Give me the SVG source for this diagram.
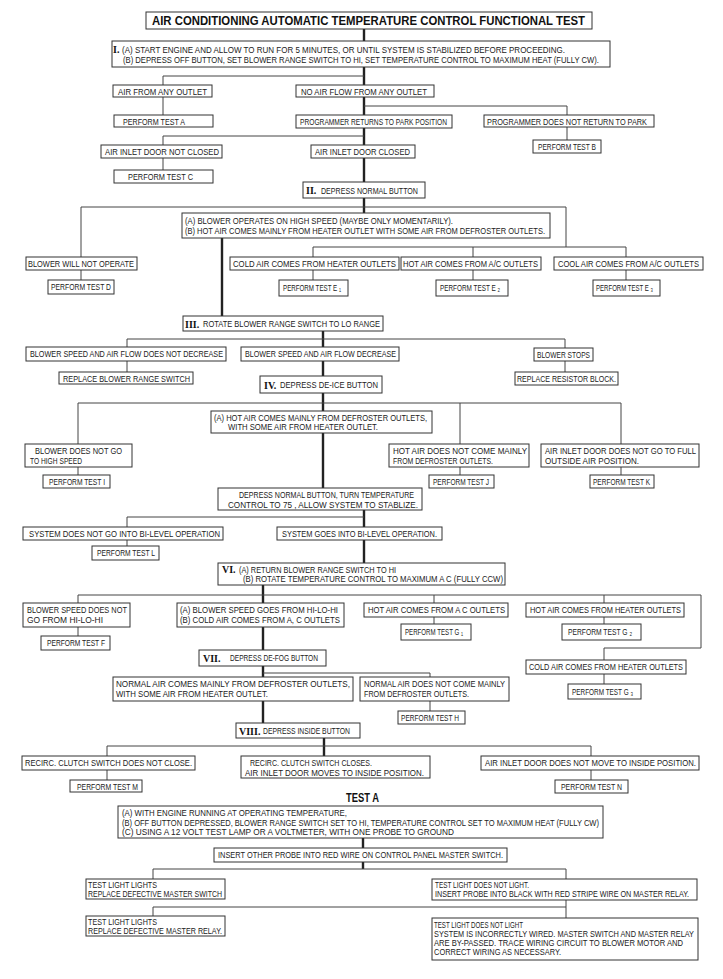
<svg xmlns="http://www.w3.org/2000/svg" width="723" height="979" viewBox="0 0 723 979">
<style>
.bg{fill:#ffffff}
.b{fill:#ffffff;stroke:#333;stroke-width:1}
.t{font-family:"Liberation Sans","DejaVu Sans",Arial,sans-serif;font-size:8.2px;fill:#222}
.h{font-family:"Liberation Sans",Arial,sans-serif;font-size:12px;font-weight:bold;fill:#111}
.r{font-family:"Liberation Serif","Times New Roman",serif;font-size:10px;font-weight:bold;fill:#111}
.s{stroke:#222;stroke-width:2.4;fill:none}
.c{stroke:#444;stroke-width:1;fill:none}
</style>
<rect class="bg" x="0" y="0" width="723" height="979"/>
<g id="connectors">
<path class="s" d="M364 29V41M364 67V85M364 97V115M364 128V145M364 158V182M364 198V213M222 238V316M323 331V347M323 361V376M323 393V411M323 433V488M364 510V527M364 540V563M263 585V603M263 627V650M263 666V677M263 701V723M324 738V756M363 838V848M363 862V869"/>
<path class="c" d="M163 85V76H364M163 97V115M364 106H567V115M567 127V140M163 145V136H364M163 158V170"/>
<path class="c" d="M81 257V207H566V247M313 257V247H626V257M473 247V257M81 270V280M313 270V280M473 270V280M626 270V280"/>
<path class="c" d="M127 347V339H565V348M127 361V372M565 361V372"/>
<path class="c" d="M78 444V403H621V444M460 403V444M78 467V475M460 467V475M621 467V475"/>
<path class="c" d="M127 527V517H364M127 540V546"/>
<path class="c" d="M78 603V595H701V648H604V660M434 595V603M604 595V603M78 627V636M434 617V624M604 617V624M604 674V684"/>
<path class="c" d="M263 673H430V677M430 701V711"/>
<path class="c" d="M107 756V746H591V756M107 770V780M591 770V780"/>
<path class="c" d="M153 879V869H566V879M153 916V907H566M566 900V918"/>
</g>
<g id="title"><rect class="b" x="146" y="12" width="446" height="17"/><text class="h" x="152" y="25" textLength="433" lengthAdjust="spacingAndGlyphs">AIR CONDITIONING AUTOMATIC TEMPERATURE CONTROL FUNCTIONAL TEST</text></g>
<g id="step1"><rect class="b" x="112" y="41" width="498" height="26"/><text class="r" x="113" y="53">I.</text><text class="t" x="122" y="53" textLength="443" lengthAdjust="spacingAndGlyphs">(A) START ENGINE AND ALLOW TO RUN FOR 5 MINUTES, OR UNTIL SYSTEM IS STABILIZED BEFORE PROCEEDING.</text><text class="t" x="123" y="63" textLength="476" lengthAdjust="spacingAndGlyphs">(B) DEPRESS OFF BUTTON, SET BLOWER RANGE SWITCH TO HI, SET TEMPERATURE CONTROL TO MAXIMUM HEAT (FULLY CW).</text></g>
<g id="air-any"><rect class="b" x="113" y="85" width="99" height="12"/><text class="t" x="118" y="94.5" textLength="89" lengthAdjust="spacingAndGlyphs">AIR FROM ANY OUTLET</text></g>
<g id="no-air"><rect class="b" x="296" y="85" width="138" height="12"/><text class="t" x="301" y="94.5" textLength="126" lengthAdjust="spacingAndGlyphs">NO AIR FLOW FROM ANY OUTLET</text></g>
<g id="test-a"><rect class="b" x="114" y="115" width="99" height="12"/><text class="t" x="123" y="124.5" textLength="62" lengthAdjust="spacingAndGlyphs">PERFORM TEST A</text></g>
<g id="prog-park"><rect class="b" x="296" y="115" width="156" height="13"/><text class="t" x="300" y="124.5" textLength="147" lengthAdjust="spacingAndGlyphs">PROGRAMMER RETURNS TO PARK POSITION</text></g>
<g id="prog-not"><rect class="b" x="484" y="115" width="170" height="12"/><text class="t" x="487" y="124.5" textLength="160" lengthAdjust="spacingAndGlyphs">PROGRAMMER DOES NOT RETURN TO PARK</text></g>
<g id="test-b"><rect class="b" x="533" y="140" width="68" height="13"/><text class="t" x="538" y="150" textLength="58" lengthAdjust="spacingAndGlyphs">PERFORM TEST B</text></g>
<g id="door-not"><rect class="b" x="101" y="145" width="121" height="13"/><text class="t" x="105" y="154.5" textLength="114" lengthAdjust="spacingAndGlyphs">AIR INLET DOOR NOT CLOSED</text></g>
<g id="door-closed"><rect class="b" x="311" y="145" width="104" height="13"/><text class="t" x="315" y="154.5" textLength="95" lengthAdjust="spacingAndGlyphs">AIR INLET DOOR CLOSED</text></g>
<g id="test-c"><rect class="b" x="114" y="170" width="99" height="13"/><text class="t" x="128" y="180" textLength="65" lengthAdjust="spacingAndGlyphs">PERFORM TEST C</text></g>
<g id="step2"><rect class="b" x="303" y="182" width="122" height="16"/><text class="r" x="306" y="193.5">II.</text><text class="t" x="321" y="193.5" textLength="97" lengthAdjust="spacingAndGlyphs">DEPRESS NORMAL BUTTON</text></g>
<g id="blower-high"><rect class="b" x="182" y="213" width="368" height="25"/><text class="t" x="185" y="223.5" textLength="268" lengthAdjust="spacingAndGlyphs">(A) BLOWER OPERATES ON HIGH SPEED (MAYBE ONLY MOMENTARILY).</text><text class="t" x="185" y="234" textLength="360" lengthAdjust="spacingAndGlyphs">(B) HOT AIR COMES MAINLY FROM HEATER OUTLET WITH SOME AIR FROM DEFROSTER OUTLETS.</text></g>
<g id="blower-not"><rect class="b" x="26" y="257" width="111" height="13"/><text class="t" x="28" y="266.5" textLength="106" lengthAdjust="spacingAndGlyphs">BLOWER WILL NOT OPERATE</text></g>
<g id="test-d"><rect class="b" x="48" y="280" width="66" height="14"/><text class="t" x="51" y="290" textLength="60" lengthAdjust="spacingAndGlyphs">PERFORM TEST D</text></g>
<g id="cold-heater"><rect class="b" x="230" y="257" width="169" height="13"/><text class="t" x="233" y="266.5" textLength="163" lengthAdjust="spacingAndGlyphs">COLD AIR COMES FROM HEATER OUTLETS</text></g>
<g id="hot-ac"><rect class="b" x="401" y="257" width="140" height="13"/><text class="t" x="403" y="266.5" textLength="135" lengthAdjust="spacingAndGlyphs">HOT AIR COMES FROM A/C OUTLETS</text></g>
<g id="cool-ac"><rect class="b" x="554" y="257" width="149" height="13"/><text class="t" x="558" y="266.5" textLength="141" lengthAdjust="spacingAndGlyphs">COOL AIR COMES FROM A/C OUTLETS</text></g>
<g id="test-e1"><rect class="b" x="279" y="280" width="69" height="16"/><text class="t" x="283" y="290.5" textLength="58" lengthAdjust="spacingAndGlyphs">PERFORM TEST E ₁</text></g>
<g id="test-e2"><rect class="b" x="436" y="280" width="72" height="16"/><text class="t" x="440" y="290.5" textLength="60" lengthAdjust="spacingAndGlyphs">PERFORM TEST E ₂</text></g>
<g id="test-e3"><rect class="b" x="593" y="280" width="67" height="16"/><text class="t" x="596" y="290.5" textLength="57" lengthAdjust="spacingAndGlyphs">PERFORM TEST E ₃</text></g>
<g id="step3"><rect class="b" x="183" y="316" width="200" height="15"/><text class="r" x="185" y="327.5">III.</text><text class="t" x="203" y="327" textLength="177" lengthAdjust="spacingAndGlyphs">ROTATE BLOWER RANGE SWITCH TO LO RANGE</text></g>
<g id="speed-not"><rect class="b" x="26" y="347" width="200" height="14"/><text class="t" x="30" y="357" textLength="193" lengthAdjust="spacingAndGlyphs">BLOWER SPEED AND AIR FLOW DOES NOT DECREASE</text></g>
<g id="speed-dec"><rect class="b" x="241" y="347" width="158" height="14"/><text class="t" x="245" y="357" textLength="151" lengthAdjust="spacingAndGlyphs">BLOWER SPEED AND AIR FLOW DECREASE</text></g>
<g id="blower-stops"><rect class="b" x="534" y="348" width="59" height="13"/><text class="t" x="537" y="357.5" textLength="53" lengthAdjust="spacingAndGlyphs">BLOWER STOPS</text></g>
<g id="repl-switch"><rect class="b" x="59" y="372" width="134" height="12"/><text class="t" x="63" y="381.5" textLength="127" lengthAdjust="spacingAndGlyphs">REPLACE BLOWER RANGE SWITCH</text></g>
<g id="repl-resistor"><rect class="b" x="515" y="372" width="103" height="13"/><text class="t" x="517" y="381.5" textLength="99" lengthAdjust="spacingAndGlyphs">REPLACE RESISTOR BLOCK.</text></g>
<g id="step4"><rect class="b" x="260" y="376" width="122" height="17"/><text class="r" x="264" y="388.5">IV.</text><text class="t" x="280" y="388" textLength="98" lengthAdjust="spacingAndGlyphs">DEPRESS DE-ICE BUTTON</text></g>
<g id="hot-defrost"><rect class="b" x="211" y="411" width="221" height="22"/><text class="t" x="214" y="420.5" textLength="213" lengthAdjust="spacingAndGlyphs">(A) HOT AIR COMES MAINLY FROM DEFROSTER OUTLETS,</text><text class="t" x="228" y="430" textLength="150" lengthAdjust="spacingAndGlyphs">WITH SOME AIR FROM HEATER OUTLET.</text></g>
<g id="blower-nohigh"><rect class="b" x="25" y="444" width="107" height="23"/><text class="t" x="35" y="454" textLength="87" lengthAdjust="spacingAndGlyphs">BLOWER DOES NOT GO</text><text class="t" x="30" y="464" textLength="52" lengthAdjust="spacingAndGlyphs">TO HIGH SPEED</text></g>
<g id="test-i"><rect class="b" x="43" y="475" width="67" height="13"/><text class="t" x="49" y="485" textLength="56" lengthAdjust="spacingAndGlyphs">PERFORM TEST I</text></g>
<g id="hot-nodefrost"><rect class="b" x="389" y="444" width="140" height="23"/><text class="t" x="393" y="454" textLength="134" lengthAdjust="spacingAndGlyphs">HOT AIR DOES NOT COME MAINLY</text><text class="t" x="393" y="464" textLength="100" lengthAdjust="spacingAndGlyphs">FROM DEFROSTER OUTLETS.</text></g>
<g id="test-j"><rect class="b" x="429" y="475" width="65" height="13"/><text class="t" x="433" y="485" textLength="56" lengthAdjust="spacingAndGlyphs">PERFORM TEST J</text></g>
<g id="door-nofull"><rect class="b" x="541" y="444" width="158" height="23"/><text class="t" x="545" y="454" textLength="151" lengthAdjust="spacingAndGlyphs">AIR INLET DOOR DOES NOT GO TO FULL</text><text class="t" x="545" y="464" textLength="94" lengthAdjust="spacingAndGlyphs">OUTSIDE AIR POSITION.</text></g>
<g id="test-k"><rect class="b" x="590" y="475" width="64" height="13"/><text class="t" x="593" y="485" textLength="57" lengthAdjust="spacingAndGlyphs">PERFORM TEST K</text></g>
<g id="step5"><rect class="b" x="218" y="488" width="204" height="22"/><text class="t" x="239" y="498" textLength="175" lengthAdjust="spacingAndGlyphs">DEPRESS NORMAL BUTTON, TURN TEMPERATURE</text><text class="t" x="228" y="507.5" textLength="190" lengthAdjust="spacingAndGlyphs">CONTROL TO 75 , ALLOW SYSTEM TO STABLIZE.</text></g>
<g id="bilevel-not"><rect class="b" x="23" y="527" width="200" height="13"/><text class="t" x="29" y="537" textLength="191" lengthAdjust="spacingAndGlyphs">SYSTEM DOES NOT GO INTO BI-LEVEL OPERATION</text></g>
<g id="bilevel"><rect class="b" x="277" y="527" width="165" height="13"/><text class="t" x="282" y="537" textLength="155" lengthAdjust="spacingAndGlyphs">SYSTEM GOES INTO BI-LEVEL OPERATION.</text></g>
<g id="test-l"><rect class="b" x="92" y="546" width="67" height="14"/><text class="t" x="97" y="556" textLength="58" lengthAdjust="spacingAndGlyphs">PERFORM TEST L</text></g>
<g id="step6"><rect class="b" x="218" y="563" width="287" height="22"/><text class="r" x="222" y="572.5">VI.</text><text class="t" x="239" y="572.5" textLength="157" lengthAdjust="spacingAndGlyphs">(A) RETURN BLOWER RANGE SWITCH TO HI</text><text class="t" x="243" y="582" textLength="260" lengthAdjust="spacingAndGlyphs">(B) ROTATE TEMPERATURE CONTROL TO MAXIMUM A C (FULLY CCW)</text></g>
<g id="speed-nohilo"><rect class="b" x="23" y="603" width="107" height="24"/><text class="t" x="27" y="613" textLength="100" lengthAdjust="spacingAndGlyphs">BLOWER SPEED DOES NOT</text><text class="t" x="27" y="623" textLength="76" lengthAdjust="spacingAndGlyphs">GO FROM HI-LO-HI</text></g>
<g id="test-f"><rect class="b" x="41" y="636" width="69" height="14"/><text class="t" x="47" y="646" textLength="58" lengthAdjust="spacingAndGlyphs">PERFORM TEST F</text></g>
<g id="speed-hilo"><rect class="b" x="177" y="603" width="167" height="24"/><text class="t" x="180" y="613" textLength="158" lengthAdjust="spacingAndGlyphs">(A) BLOWER SPEED GOES FROM HI-LO-HI</text><text class="t" x="180" y="623" textLength="160" lengthAdjust="spacingAndGlyphs">(B) COLD AIR COMES FROM A, C OUTLETS</text></g>
<g id="hot-ac2"><rect class="b" x="364" y="603" width="144" height="14"/><text class="t" x="368" y="613" textLength="137" lengthAdjust="spacingAndGlyphs">HOT AIR COMES FROM A C OUTLETS</text></g>
<g id="test-g1"><rect class="b" x="401" y="624" width="70" height="16"/><text class="t" x="405" y="634.5" textLength="58" lengthAdjust="spacingAndGlyphs">PERFORM TEST G ₁</text></g>
<g id="hot-heater"><rect class="b" x="526" y="603" width="158" height="14"/><text class="t" x="530" y="613" textLength="151" lengthAdjust="spacingAndGlyphs">HOT AIR COMES FROM HEATER OUTLETS</text></g>
<g id="test-g2"><rect class="b" x="562" y="624" width="79" height="16"/><text class="t" x="568" y="634.5" textLength="64" lengthAdjust="spacingAndGlyphs">PERFORM TEST G ₂</text></g>
<g id="cold-heater2"><rect class="b" x="526" y="660" width="160" height="14"/><text class="t" x="529" y="670" textLength="154" lengthAdjust="spacingAndGlyphs">COLD AIR COMES FROM HEATER OUTLETS</text></g>
<g id="test-g3"><rect class="b" x="568" y="684" width="73" height="15"/><text class="t" x="572" y="694.5" textLength="61" lengthAdjust="spacingAndGlyphs">PERFORM TEST G ₃</text></g>
<g id="step7"><rect class="b" x="199" y="650" width="127" height="16"/><text class="r" x="203" y="661.5">VII.</text><text class="t" x="230" y="661" textLength="88" lengthAdjust="spacingAndGlyphs">DEPRESS DE-FOG BUTTON</text></g>
<g id="normal-defrost"><rect class="b" x="113" y="677" width="240" height="24"/><text class="t" x="116" y="687" textLength="234" lengthAdjust="spacingAndGlyphs">NORMAL AIR COMES MAINLY FROM DEFROSTER OUTLETS,</text><text class="t" x="116" y="697" textLength="152" lengthAdjust="spacingAndGlyphs">WITH SOME AIR FROM HEATER OUTLET.</text></g>
<g id="normal-nodefrost"><rect class="b" x="360" y="677" width="149" height="24"/><text class="t" x="364" y="687" textLength="141" lengthAdjust="spacingAndGlyphs">NORMAL AIR DOES NOT COME MAINLY</text><text class="t" x="364" y="697" textLength="105" lengthAdjust="spacingAndGlyphs">FROM DEFROSTER OUTLETS.</text></g>
<g id="test-h"><rect class="b" x="398" y="711" width="67" height="13"/><text class="t" x="401" y="721" textLength="58" lengthAdjust="spacingAndGlyphs">PERFORM TEST H</text></g>
<g id="step8"><rect class="b" x="236" y="723" width="124" height="15"/><text class="r" x="239" y="734.5">VIII.</text><text class="t" x="263" y="734" textLength="87" lengthAdjust="spacingAndGlyphs">DEPRESS INSIDE BUTTON</text></g>
<g id="recirc-not"><rect class="b" x="22" y="756" width="173" height="14"/><text class="t" x="25" y="766" textLength="167" lengthAdjust="spacingAndGlyphs">RECIRC. CLUTCH SWITCH DOES NOT CLOSE.</text></g>
<g id="test-m"><rect class="b" x="70" y="780" width="72" height="12"/><text class="t" x="77" y="789.5" textLength="61" lengthAdjust="spacingAndGlyphs">PERFORM TEST M</text></g>
<g id="recirc-closes"><rect class="b" x="241" y="756" width="189" height="22"/><text class="t" x="250" y="766" textLength="122" lengthAdjust="spacingAndGlyphs">RECIRC. CLUTCH SWITCH CLOSES.</text><text class="t" x="245" y="775.5" textLength="179" lengthAdjust="spacingAndGlyphs">AIR INLET DOOR MOVES TO INSIDE POSITION.</text></g>
<g id="door-noinside"><rect class="b" x="481" y="756" width="218" height="14"/><text class="t" x="485" y="766" textLength="211" lengthAdjust="spacingAndGlyphs">AIR INLET DOOR DOES NOT MOVE TO INSIDE POSITION.</text></g>
<g id="test-n"><rect class="b" x="555" y="780" width="73" height="13"/><text class="t" x="561" y="789.5" textLength="61" lengthAdjust="spacingAndGlyphs">PERFORM TEST N</text></g>
<text class="h" x="346" y="802" font-size="11" textLength="33" lengthAdjust="spacingAndGlyphs">TEST A</text>
<g id="testa-setup"><rect class="b" x="118" y="806" width="485" height="32"/><text class="t" x="122" y="816" textLength="225" lengthAdjust="spacingAndGlyphs">(A) WITH ENGINE RUNNING AT OPERATING TEMPERATURE,</text><text class="t" x="122" y="825.5" textLength="477" lengthAdjust="spacingAndGlyphs">(B) OFF BUTTON DEPRESSED, BLOWER RANGE SWITCH SET TO HI, TEMPERATURE CONTROL SET TO MAXIMUM HEAT (FULLY CW)</text><text class="t" x="122" y="835" textLength="332" lengthAdjust="spacingAndGlyphs">(C) USING A 12 VOLT TEST LAMP OR A VOLTMETER, WITH ONE PROBE TO GROUND</text></g>
<g id="insert-probe"><rect class="b" x="214" y="848" width="293" height="14"/><text class="t" x="218" y="858" textLength="285" lengthAdjust="spacingAndGlyphs">INSERT OTHER PROBE INTO RED WIRE ON CONTROL PANEL MASTER SWITCH.</text></g>
<g id="light-switch"><rect class="b" x="86" y="879" width="139" height="20"/><text class="t" x="88" y="888" textLength="69" lengthAdjust="spacingAndGlyphs">TEST LIGHT LIGHTS</text><text class="t" x="88" y="897" textLength="134" lengthAdjust="spacingAndGlyphs">REPLACE DEFECTIVE MASTER SWITCH</text></g>
<g id="nolight-probe"><rect class="b" x="432" y="879" width="265" height="21"/><text class="t" x="435" y="888" textLength="94" lengthAdjust="spacingAndGlyphs">TEST LIGHT DOES NOT LIGHT.</text><text class="t" x="435" y="897" font-size="7.1px" textLength="254" lengthAdjust="spacingAndGlyphs">INSERT PROBE INTO BLACK WITH RED STRIPE WIRE ON MASTER RELAY.</text></g>
<g id="light-relay"><rect class="b" x="86" y="916" width="139" height="20"/><text class="t" x="88" y="925" textLength="69" lengthAdjust="spacingAndGlyphs">TEST LIGHT LIGHTS</text><text class="t" x="88" y="934" textLength="134" lengthAdjust="spacingAndGlyphs">REPLACE DEFECTIVE MASTER RELAY.</text></g>
<g id="nolight-wiring"><rect class="b" x="432" y="918" width="266" height="42"/><text class="t" x="434" y="927.5" textLength="89" lengthAdjust="spacingAndGlyphs">TEST LIGHT DOES NOT LIGHT</text><text class="t" x="434" y="937" textLength="260" lengthAdjust="spacingAndGlyphs">SYSTEM IS INCORRECTLY WIRED.  MASTER SWITCH AND MASTER RELAY</text><text class="t" x="434" y="946" textLength="249" lengthAdjust="spacingAndGlyphs">ARE BY-PASSED. TRACE WIRING CIRCUIT TO BLOWER MOTOR AND</text><text class="t" x="434" y="955" textLength="127" lengthAdjust="spacingAndGlyphs">CORRECT WIRING AS NECESSARY.</text></g>
</svg>
